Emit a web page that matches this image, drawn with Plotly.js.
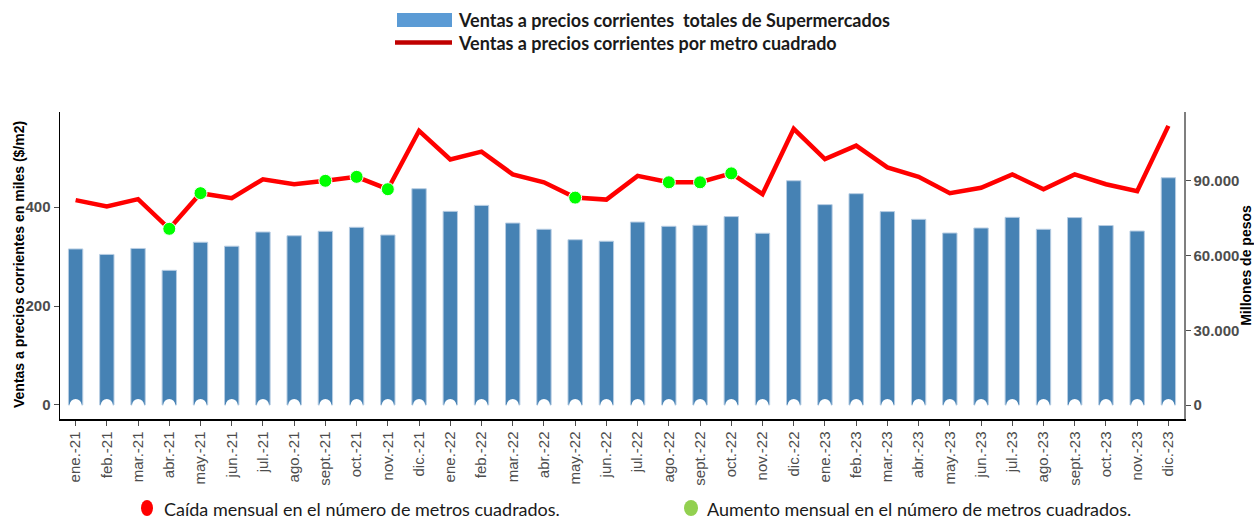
<!DOCTYPE html>
<html>
<head>
<meta charset="utf-8">
<script src="https://cdn.plot.ly/plotly-3.0.1.min.js"></script>
<style>html,body{margin:0;padding:0;background:#fff}#chart{width:1254px;height:519px}</style>
</head>
<body>
<div id="chart"></div>
<script>
// ---- Data ----
const meses = ["ene.-21","feb.-21","mar.-21","abr.-21","may.-21","jun.-21","jul.-21","ago.-21","sept.-21","oct.-21","nov.-21","dic.-21",
               "ene.-22","feb.-22","mar.-22","abr.-22","may.-22","jun.-22","jul.-22","ago.-22","sept.-22","oct.-22","nov.-22","dic.-22",
               "ene.-23","feb.-23","mar.-23","abr.-23","may.-23","jun.-23","jul.-23","ago.-23","sept.-23","oct.-23","nov.-23","dic.-23"];
// Ventas totales de supermercados (millones de pesos)
const ventasTotales = [62700,60500,62900,54100,65400,63800,69500,68000,69800,71400,68300,86900,
                       77800,80200,73100,70600,66400,65800,73500,71800,72200,75700,69000,90100,
                       80500,84900,77700,74600,69100,71100,75400,70600,75300,72100,69900,91300];
// Ventas por metro cuadrado (miles $/m2)
const ventasM2 = [414,401,416,356,428,418,456,446,453,461,436,554,
                  496,512,466,450,419,415,463,450,450,468,426,558,
                  497,524,480,461,428,439,466,436,466,446,432,564];
// Meses con aumento mensual en el número de metros cuadrados
const mesesAumento = ["abr.-21","may.-21","sept.-21","oct.-21","nov.-21","may.-22","ago.-22","sept.-22","oct.-22"];
// Meses con caída mensual (ninguno marcado en el gráfico)
const mesesCaida = [];

const tickTotales = [0,30000,60000,90000];
const tickM2 = [0,200,400];

// ---- helpers for paper coordinates (plot area 60..1184 x 112..419) ----
const L=60, R=1184, T=112, B=419;
const px = x => (x-L)/(R-L);
const py = y => (B-y)/(B-T);

const aumIdx = mesesAumento.map(m => meses.indexOf(m));
const caiIdx = mesesCaida.map(m => meses.indexOf(m));

const traces = [
  {
    type:'bar', x:meses, y:ventasTotales, yaxis:'y',
    name:'Ventas a precios corrientes  totales de Supermercados',
    marker:{color:'#4682B4', line:{color:'#B7CDE3', width:1}},
    width:0.46, hoverinfo:'x+y'
  },
  {
    type:'scatter', mode:'markers', x:meses, y:meses.map(()=>0), yaxis:'y',
    marker:{color:'#FFFFFF', size:12}, hoverinfo:'skip', showlegend:false
  },
  {
    type:'scatter', mode:'lines', x:meses, y:ventasM2, yaxis:'y2',
    name:'Ventas a precios corrientes por metro cuadrado',
    line:{color:'#FF0000', width:4.5}
  },
  {
    type:'scatter', mode:'markers', x:aumIdx.map(i=>meses[i]), y:aumIdx.map(i=>ventasM2[i]), yaxis:'y2',
    marker:{color:'#00FF00', size:13, line:{color:'#FFFFFF', width:1}}, showlegend:false
  },
  {
    type:'scatter', mode:'markers', x:caiIdx.map(i=>meses[i]), y:caiIdx.map(i=>ventasM2[i]), yaxis:'y2',
    marker:{color:'#FF0000', size:13, line:{color:'#FFFFFF', width:1}}, showlegend:false
  }
];

const legFont = {family:'Lato, "Liberation Sans", sans-serif', size:18, color:'#1a1a1a'};
const titleFont = {family:'"Liberation Sans", Arial, sans-serif', size:14, color:'#000', weight:'bold'};

const layout = {
  width:1254, height:519,
  margin:{l:L, r:1254-R, t:T, b:519-B},
  paper_bgcolor:'#fff', plot_bgcolor:'#fff',
  showlegend:false,
  separators:',.',
  xaxis:{
    type:'category', range:[-0.5,35.5],
    showline:true, linecolor:'#000', linewidth:1.5,
    ticks:'outside', ticklen:5, tickcolor:'#4d4d4d', tickwidth:1,
    tickangle:-90, tickfont:{family:'"Liberation Sans", Arial, sans-serif', size:15, color:'#4d4d4d'},
    showgrid:false, zeroline:false, fixedrange:true
  },
  yaxis:{
    side:'right', range:[-5625,117718],
    tickvals:tickTotales, tickformat:',d',
    showline:true, linecolor:'#7f7f7f', linewidth:1.5,
    ticks:'outside', ticklen:5, tickcolor:'#4d4d4d',
    tickfont:{family:'"Liberation Sans", Arial, sans-serif', size:15, color:'#4d4d4d', weight:'bold'},
    title:{text:'Millones de pesos', font:titleFont, standoff:8},
    showgrid:false, zeroline:false, fixedrange:true
  },
  yaxis2:{
    side:'left', overlaying:'y', range:[-28.3,592],
    tickvals:tickM2,
    showline:true, linecolor:'#000', linewidth:1.5,
    ticks:'outside', ticklen:5, tickcolor:'#4d4d4d',
    tickfont:{family:'"Liberation Sans", Arial, sans-serif', size:15, color:'#4d4d4d', weight:'bold'},
    showgrid:false, zeroline:false, fixedrange:true
  },
  shapes:[
    {type:'rect', xref:'paper', yref:'paper', x0:px(397), x1:px(452), y0:py(27), y1:py(13), fillcolor:'#5B9BD5', line:{width:0}},
    {type:'line', xref:'paper', yref:'paper', x0:px(395), x1:px(452), y0:py(42.5), y1:py(42.5), line:{color:'#C00000', width:4.5}},
    {type:'circle', xref:'paper', yref:'paper', x0:px(141), x1:px(153), y0:py(516), y1:py(500), fillcolor:'#FF0000', line:{width:0}},
    {type:'circle', xref:'paper', yref:'paper', x0:px(684), x1:px(698), y0:py(516), y1:py(500), fillcolor:'#92D050', line:{width:0}}
  ],
  annotations:[
    {xref:'paper', yref:'paper', x:px(19), y:py(265), xanchor:'center', yanchor:'middle', showarrow:false, textangle:-90,
     text:'Ventas a precios corrientes en miles ($/m2)', font:titleFont},
    {xref:'paper', yref:'paper', x:px(456), y:py(20), xanchor:'left', yanchor:'middle', showarrow:false,
     text:'<b>Ventas a precios corrientes  totales de Supermercados</b>', font:legFont},
    {xref:'paper', yref:'paper', x:px(456), y:py(43), xanchor:'left', yanchor:'middle', showarrow:false,
     text:'<b>Ventas a precios corrientes por metro cuadrado</b>', font:legFont},
    {xref:'paper', yref:'paper', x:px(162), y:py(509), xanchor:'left', yanchor:'middle', showarrow:false,
     text:'Caída mensual en el número de metros cuadrados.', font:legFont},
    {xref:'paper', yref:'paper', x:px(705), y:py(509), xanchor:'left', yanchor:'middle', showarrow:false,
     text:'Aumento mensual en el número de metros cuadrados.', font:legFont}
  ]
};

Plotly.newPlot('chart', traces, layout, {displayModeBar:false, staticPlot:true});
</script>
</body>
</html>
